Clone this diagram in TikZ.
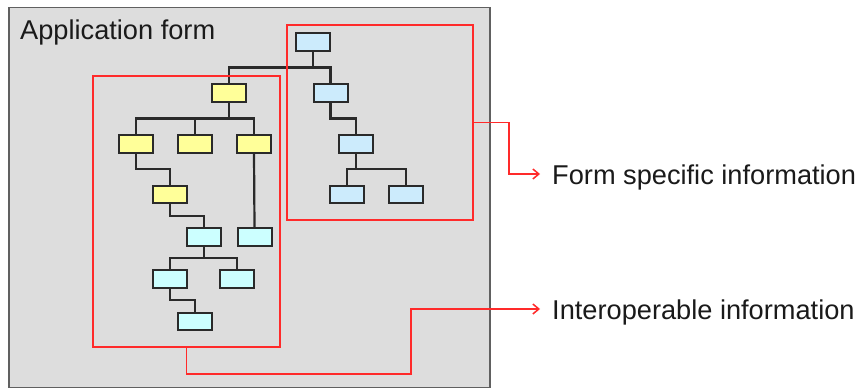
\documentclass[tikz,border=0pt]{standalone}
\usepackage{fontspec}
\setmainfont{Liberation Sans}
\usetikzlibrary{calc,arrows.meta}
\definecolor{panelgray}{HTML}{DDDDDD}
\definecolor{paneledge}{HTML}{606060}
\definecolor{boxedge}{HTML}{2A2A2A}
\definecolor{yel}{HTML}{FFFF99}
\definecolor{lblue}{HTML}{CCEBFC}
\definecolor{cyanbox}{HTML}{CCFFFF}
\definecolor{redline}{HTML}{FF2A2A}
\definecolor{txt}{HTML}{1A1A1A}
\tikzset{
  leaf/.style={draw=boxedge, line width=2pt, minimum width=34pt, minimum height=17.5pt, inner sep=0pt},
  ybox/.style={leaf, fill=yel},
  bbox/.style={leaf, fill=lblue},
  cbox/.style={leaf, fill=cyanbox},
  edge/.style={draw=boxedge, line width=2.2pt},
  redbox/.style={draw=redline, line width=1.7pt, inner sep=0pt},
  redarrow/.style={draw=redline, line width=1.5pt, -{Straight Barb[length=6pt,width=10pt]}},
  lbl/.style={anchor=west, inner xsep=12pt, text=txt, font=\fontsize{27.2}{32}\selectfont},
}
\begin{document}
\begin{tikzpicture}[x=1pt,y=-1pt]
\useasboundingbox (0,0) rectangle (856,388);
\fill[white] (0,0) rectangle (856,388);
% panel
\node[draw=paneledge, fill=panelgray, line width=1.6pt, minimum width=481pt, minimum height=380pt, inner sep=0pt] (panel) at (249.5,197.5) {};
\node[anchor=base west, text=txt, font=\fontsize{27.2}{32}\selectfont, inner sep=0pt] (title) at (20,39.5) {Application form};
% nodes
\node[bbox] (t0) at (313,42) {};
\node[bbox] (b1) at (330.5,93) {};
\node[bbox] (b2) at (356,144) {};
\node[bbox] (b3) at (347,194.5) {};
\node[bbox] (b4) at (406,194.5) {};
\node[ybox] (y0) at (229,93) {};
\node[ybox] (y1) at (136,144) {};
\node[ybox] (y2) at (195,144) {};
\node[ybox] (y3) at (254,144) {};
\node[ybox] (y4) at (170,194.5) {};
\node[cbox] (c1) at (204,237) {};
\node[cbox] (c2) at (254.5,237) {};
\node[cbox] (c3) at (170,279) {};
\node[cbox] (c4) at (237,279) {};
\node[cbox] (c5) at (195,321.5) {};
% tree edges
\foreach \p/\c in {t0/y0,t0/b1,b1/b2,b2/b3,b2/b4,y0/y1,y0/y2,y0/y3,y1/y4,y4/c1,c1/c3,c1/c4,c3/c5}{
  \draw[edge] (\p.south) |- ($(\p.south)!0.5!(\c.north)$) -| (\c.north);
}
\draw[edge] (y3.south) -- (c2.north);
% red groups
\node[redbox, minimum width=186pt, minimum height=195pt] (rR) at (380,122.5) {};
\node[redbox, minimum width=187pt, minimum height=271pt] (rL) at (186.5,211.5) {};
% labels
\node[lbl] (lab1) at (540,177) {Form specific information};
\node[lbl] (lab2) at (540,312) {Interoperable information};
\coordinate (a1) at (540,174);
\coordinate (a2) at (540,309);
\draw[redarrow] (rR.east) -- ++(35,0) |- (a1);
\draw[redarrow] (rL.south) -- ++(0,26) -| ($(rL.south)+(224.5,-38)$) |- (a2);
\end{tikzpicture}
\end{document}
